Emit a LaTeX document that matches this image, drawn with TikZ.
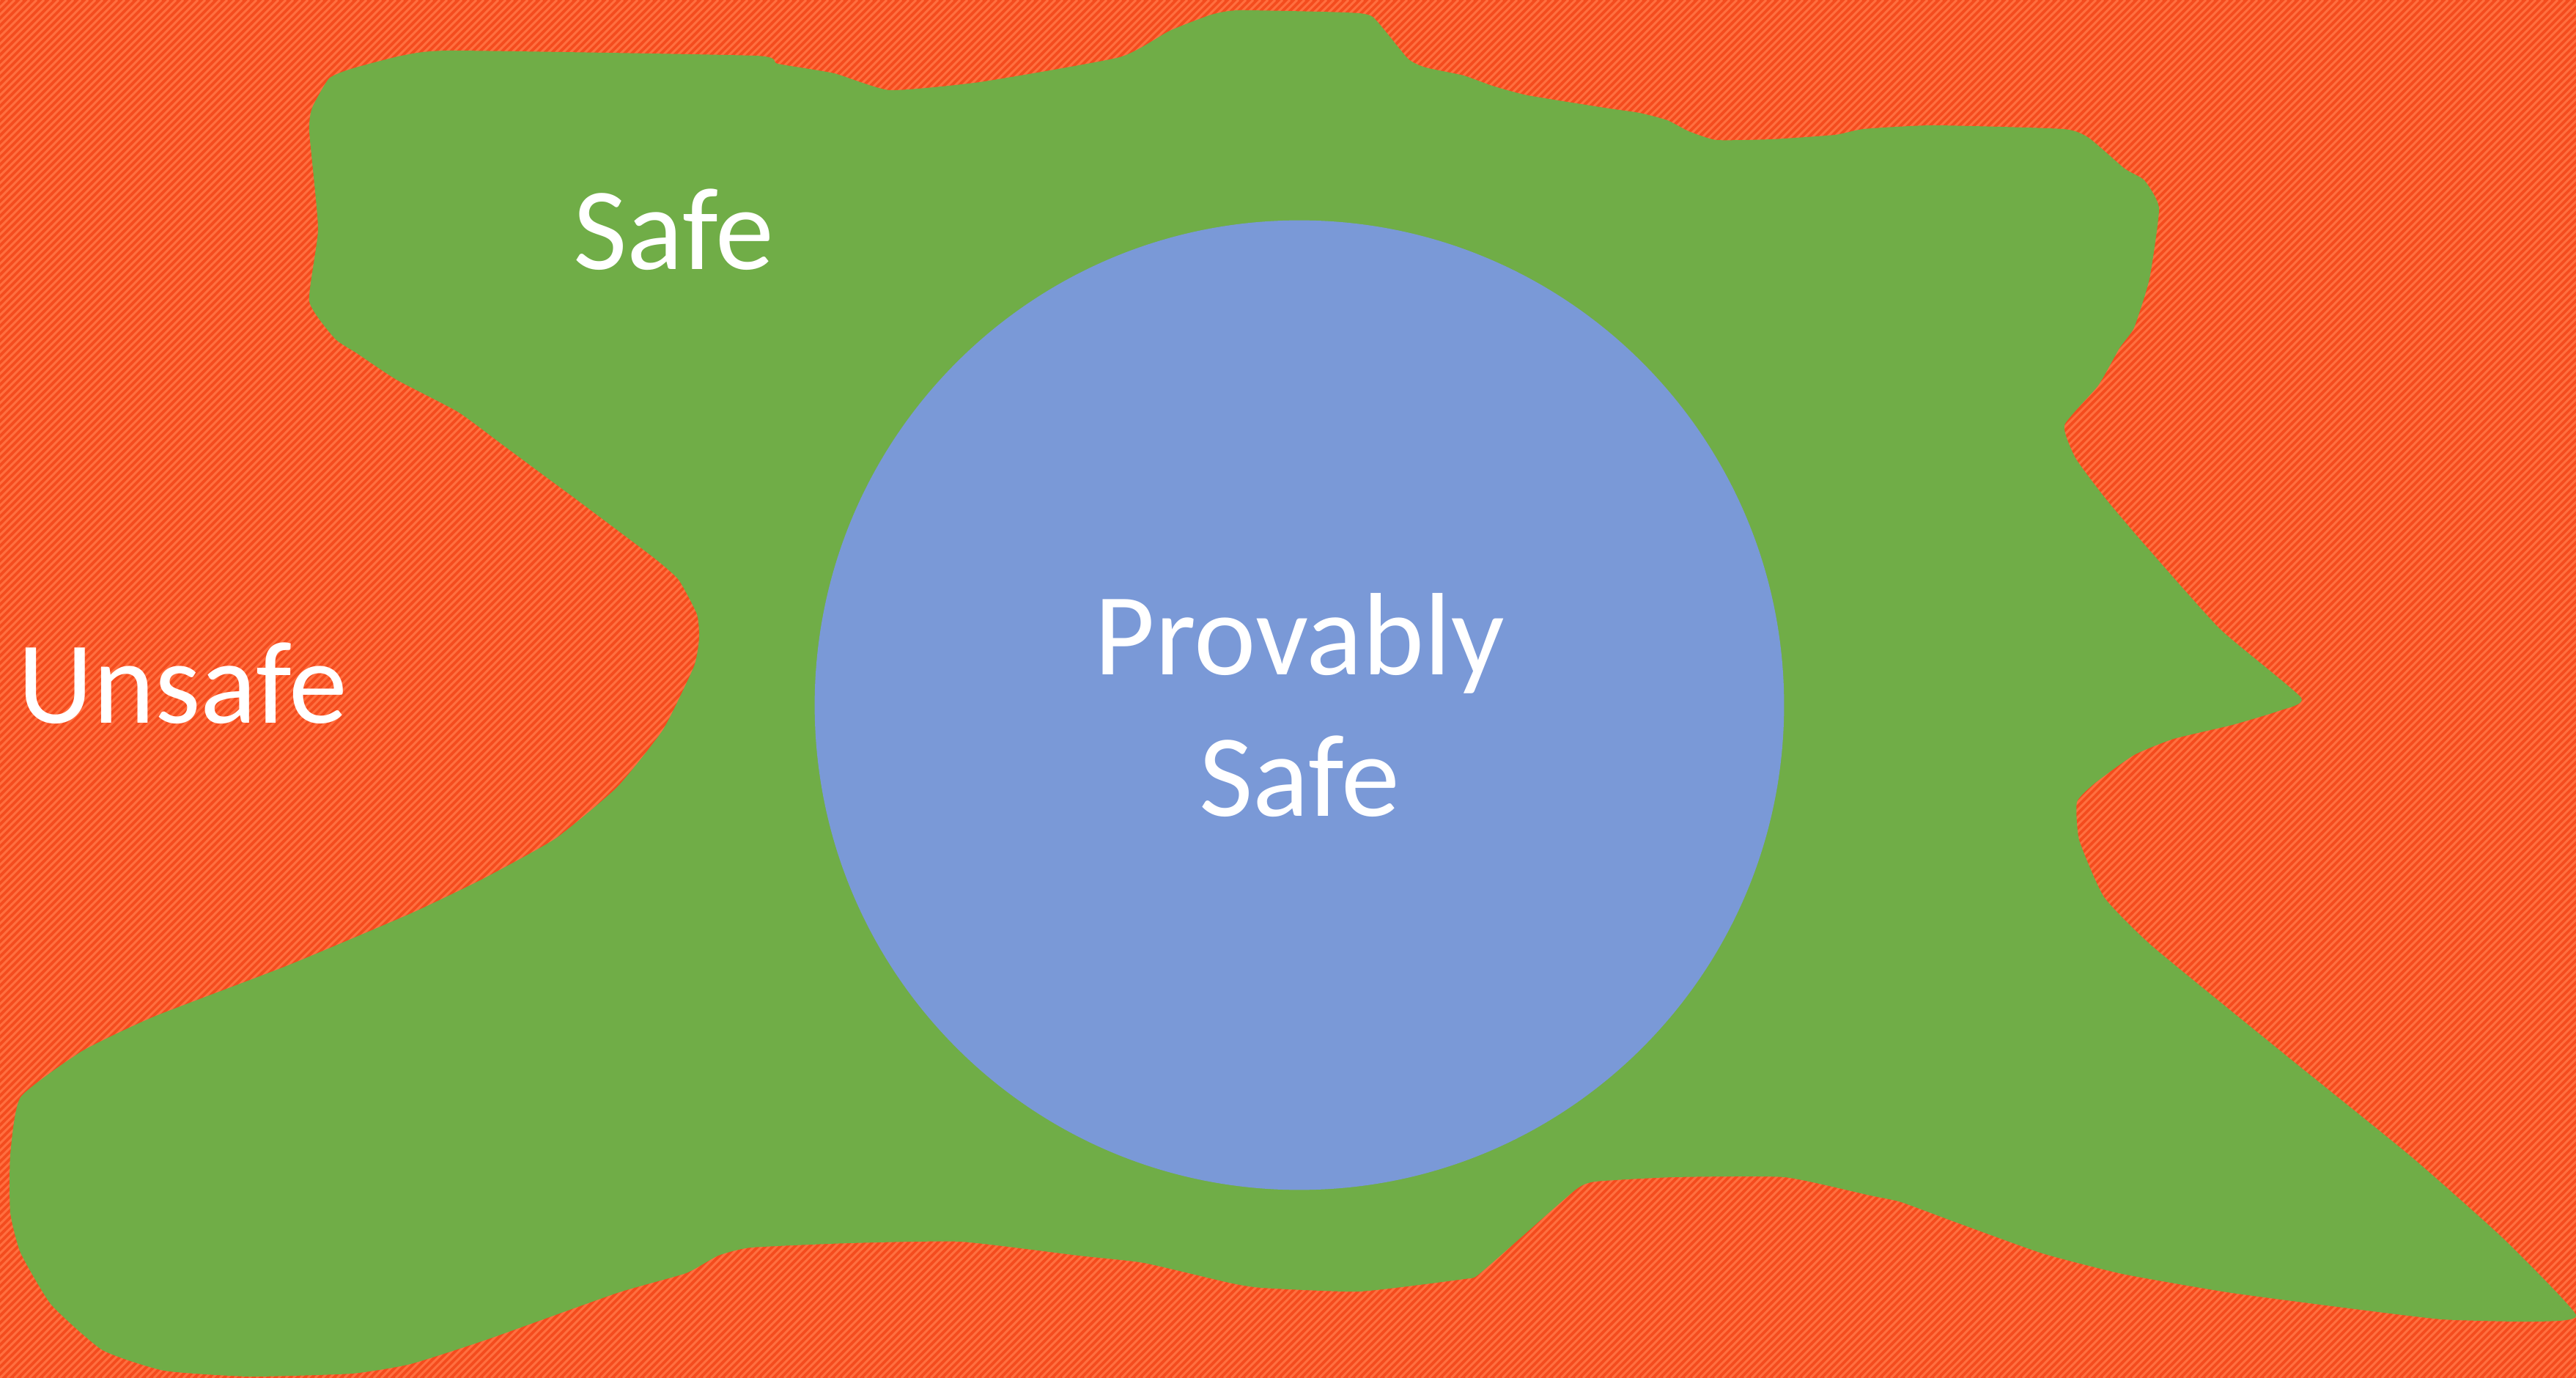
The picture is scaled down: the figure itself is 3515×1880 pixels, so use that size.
\documentclass[tikz,border=0pt]{standalone}
\usepackage{fontspec}
\setmainfont{Carlito}
\definecolor{unsafered}{HTML}{F44C1E}
\definecolor{unsafestripe}{HTML}{FF6F3F}
\definecolor{safegreen}{HTML}{70AD47}
\definecolor{provblue}{HTML}{7A99D7}

\begin{document}
\begin{tikzpicture}[x=0.01cm,y=-0.01cm,
  zonelabel/.style={text=white,font=\fontsize{45.5}{55}\selectfont},
  stripe/.style={unsafestripe,line width=0.85pt}]
  \useasboundingbox (0,0) rectangle (3515,1880);
  \fill[unsafered] (0,0) rectangle (3515,1880);

  \begin{scope}
    \clip (0,0) rectangle (3515,1880);
    \foreach \s in {-1880,-1870,...,3515}
      \draw[stripe] (\s,1880) -- ++(1880,-1880);
  \end{scope}

  \fill[safegreen] plot[smooth cycle,tension=0.3] coordinates {
    (449,107) (479,94) (548,76) (617,69) (1030,76) (1061,87) (1138,100)
    (1214,123) (1337,112) (1528,78) (1596,42) (1653,20) (1691,14)
    (1835,17) (1873,23) (1921,80) (1945,92) (1997,103) (2036,117)
    (2084,130) (2189,147) (2237,154) (2275,164) (2304,179) (2342,191)
    (2418,190) (2504,184) (2543,176) (2638,171) (2815,176) (2850,188)
    (2899,230) (2926,246) (2946,284) (2933,380) (2912,447) (2892,475)
    (2863,526) (2817,580) (2832,625) (2872,679) (2921,737) (3029,858)
    (3140,952) (3109,970) (3046,989) (2966,1008) (2912,1030) (2859,1068)
    (2834,1094) (2837,1146) (2871,1224) (2938,1292) (3123,1443)
    (3290,1578) (3416,1690) (3515,1794) (3458,1803) (3332,1800)
    (3190,1783) (3039,1763) (2896,1738) (2787,1710) (2670,1668)
    (2594,1640) (2552,1631) (2435,1606) (2284,1606) (2177,1612)
    (2150,1623) (2070,1693) (2016,1740) (1998,1745) (1855,1762)
    (1722,1757) (1677,1750) (1561,1723) (1472,1713) (1311,1694)
    (1159,1696) (1025,1702) (980,1713) (936,1737) (842,1764) (666,1827)
    (560,1861) (480,1874) (340,1878) (224,1870) (140,1842) (70,1780)
    (28,1709) (14,1654) (14,1576) (28,1497) (112,1434) (210,1387)
    (393,1317) (561,1246) (659,1199) (758,1144) (842,1074) (905,995)
    (947,909) (954,870) (951,838) (926,791) (891,760) (786,681)
    (744,650) (686,607) (625,562) (541,518) (487,482) (457,462)
    (422,411) (434,312) (422,179) (426,147)};

  \node[circle,fill=provblue,minimum size=13.22cm,inner sep=0pt,
    zonelabel,align=center] (provable) at (1773,962) {Provably\\Safe};
  \node[zonelabel,anchor=base] (safe) at (919,368) {Safe};
  \node[zonelabel,anchor=base west] (unsafe) at (12,987) {Unsafe};
\end{tikzpicture}
\end{document}
